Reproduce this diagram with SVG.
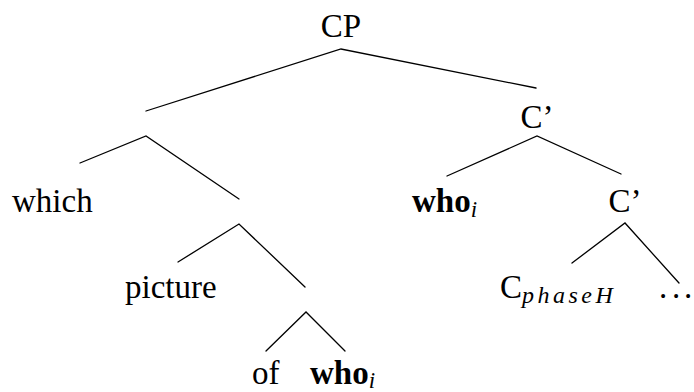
<svg xmlns="http://www.w3.org/2000/svg" width="694" height="392" viewBox="0 0 694 392">
  <style>
    .lbl { font-family: "Liberation Serif", "Times New Roman", serif; font-size: 33px; fill: #000; }
    .b { font-weight: bold; }
    .sub { font-style: italic; font-size: 23px; font-weight: normal; }
    .mathsub { font-style: italic; font-size: 24px; letter-spacing: 3.5px; }
    .edge { stroke: #000; stroke-width: 1.3; fill: none; stroke-linecap: round; }
  </style>
  <rect width="694" height="392" fill="#fff"/>

  <!-- branches -->
  <g id="connectors">
    <polyline class="edge" points="146,111 341,49 536,88"/>
    <polyline class="edge" points="80,163 146,136 239,199"/>
    <polyline class="edge" points="447,176 537,136 621,174"/>
    <polyline class="edge" points="178,262 239,224 305,287"/>
    <polyline class="edge" points="572,263 625,223 679,283"/>
    <polyline class="edge" points="266,351 306,312 345,351"/>
  </g>

  <!-- nodes -->
  <g id="n-cp"><text class="lbl" x="341" y="37" text-anchor="middle">CP</text></g>
  <g id="n-cbar1"><text class="lbl" x="537" y="128" text-anchor="middle">C’</text></g>
  <g id="n-which"><text class="lbl" x="12" y="212">which</text></g>
  <g id="n-who1"><text class="lbl b" x="412" y="212">who<tspan class="sub" dy="5">i</tspan></text></g>
  <g id="n-cbar2"><text class="lbl" x="625" y="212" text-anchor="middle">C’</text></g>
  <g id="n-picture"><text class="lbl" x="125" y="298">picture</text></g>
  <g id="n-cphase"><text class="lbl" x="500" y="298">C<tspan class="mathsub" dy="5">phaseH</tspan></text></g>
  <g id="n-dots"><text class="lbl" x="659 672 684" y="298">...</text></g>
  <g id="n-of"><text class="lbl" x="252" y="384">of</text></g>
  <g id="n-who2"><text class="lbl b" x="310" y="384">who<tspan class="sub" dy="4">i</tspan></text></g>
</svg>
